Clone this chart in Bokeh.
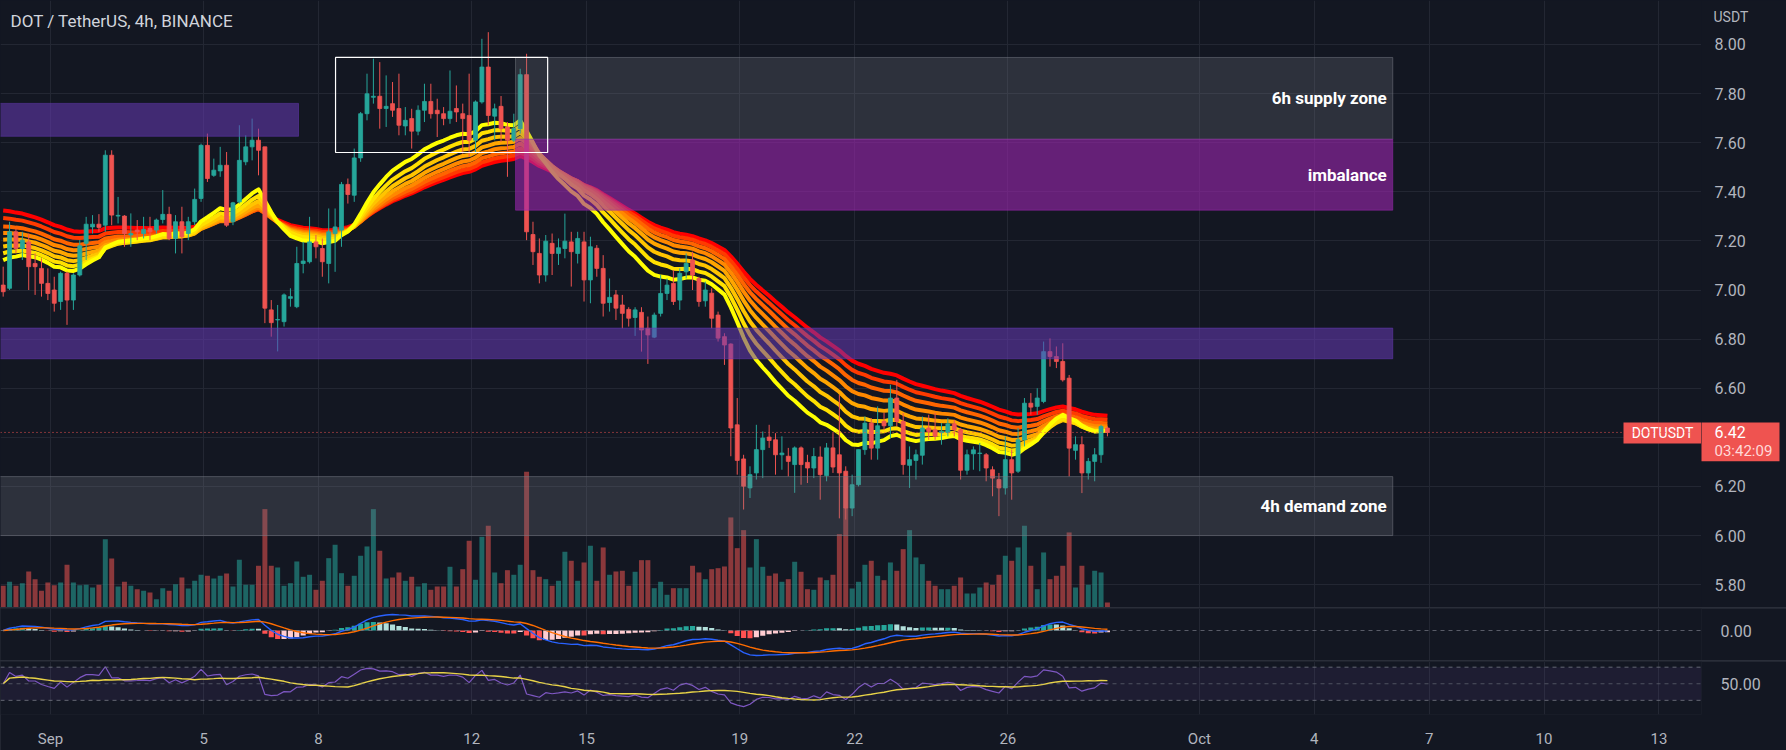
import numpy as np
from bokeh.plotting import figure
from bokeh.layouts import column, row
from bokeh.models import (ColumnDataSource, Range1d, FixedTicker, Span,
                          BoxAnnotation, NumeralTickFormatter, LinearAxis)
from bokeh.embed import file_html
from bokeh.resources import INLINE
from bokeh.core.properties import value

# ---------------- data ----------------
bar_index = list(range(-8, 166))   # 4h bars, 0 = 1 Sep 00:00

opens = [7.020, 7.007, 7.237, 7.169, 7.196, 7.108, 7.088, 7.027,
         7.000, 6.953, 7.068, 6.959, 7.061, 7.190, 7.257, 7.268, 7.264, 7.549,
         7.301, 7.301, 7.224, 7.244, 7.230, 7.251, 7.244, 7.287, 7.308, 7.210,
         7.278, 7.230, 7.278, 7.373, 7.589, 7.467, 7.485, 7.508, 7.278, 7.359,
         7.522, 7.583, 7.610, 7.583, 6.919, 6.878, 6.871, 6.966, 6.932, 7.108,
         7.115, 7.196, 7.169, 7.108, 7.230, 7.244, 7.430, 7.386, 7.538, 7.718,
         7.785, 7.789, 7.739, 7.759, 7.739, 7.668, 7.698, 7.647, 7.732, 7.768,
         7.732, 7.718, 7.698, 7.739, 7.718, 7.711, 7.610, 7.766, 7.908, 7.708,
         7.748, 7.664, 7.610, 7.657, 7.877, 7.226, 7.149, 7.061, 7.190, 7.149,
         7.169, 7.196, 7.149, 7.196, 7.041, 7.170, 7.088, 6.949, 6.980, 6.939,
         6.921, 6.888, 6.909, 6.844, 6.808, 6.905, 6.986, 7.027, 6.959, 7.074,
         7.122, 7.047, 6.956, 6.987, 6.898, 6.810, 6.780, 6.451, 6.312, 6.194,
         6.255, 6.350, 6.401, 6.390, 6.329, 6.323, 6.289, 6.357, 6.298, 6.275,
         6.320, 6.244, 6.357, 6.329, 6.262, 6.112, 6.207, 6.350, 6.458, 6.356,
         6.465, 6.447, 6.560, 6.465, 6.286, 6.306, 6.327, 6.438, 6.431, 6.419,
         6.420, 6.455, 6.431, 6.266, 6.333, 6.334, 6.329, 6.268, 6.228, 6.194,
         6.309, 6.262, 6.390, 6.539, 6.526, 6.546, 6.749, 6.729, 6.709, 6.641,
         6.347, 6.370, 6.255, 6.302, 6.329, 6.438]

highs = [7.095, 7.278, 7.250, 7.237, 7.230, 7.149, 7.129, 7.088,
         7.054, 7.075, 7.075, 7.068, 7.203, 7.298, 7.305, 7.309, 7.569, 7.569,
         7.379, 7.305, 7.312, 7.285, 7.298, 7.298, 7.291, 7.407, 7.339, 7.305,
         7.339, 7.298, 7.413, 7.596, 7.637, 7.535, 7.583, 7.562, 7.359, 7.671,
         7.630, 7.698, 7.657, 7.583, 6.959, 6.939, 6.986, 7.007, 7.176, 7.196,
         7.298, 7.224, 7.210, 7.332, 7.332, 7.440, 7.454, 7.576, 7.725, 7.881,
         7.942, 7.928, 7.874, 7.847, 7.881, 7.745, 7.738, 7.752, 7.840, 7.840,
         7.779, 7.745, 7.894, 7.833, 7.759, 7.881, 7.772, 8.023, 8.050, 7.759,
         7.790, 7.684, 7.718, 7.901, 7.962, 7.278, 7.210, 7.224, 7.230, 7.210,
         7.311, 7.237, 7.237, 7.237, 7.217, 7.183, 7.142, 7.047, 7.000, 6.980,
         6.930, 6.930, 6.930, 6.892, 6.908, 7.061, 7.047, 7.081, 7.088, 7.149,
         7.156, 7.054, 7.034, 7.007, 6.912, 6.824, 6.783, 6.560, 6.329, 6.282,
         6.451, 6.424, 6.451, 6.417, 6.404, 6.357, 6.363, 6.363, 6.329, 6.357,
         6.363, 6.377, 6.417, 6.573, 6.282, 6.248, 6.350, 6.485, 6.478, 6.526,
         6.500, 6.614, 6.634, 6.499, 6.363, 6.350, 6.485, 6.492, 6.499, 6.458,
         6.478, 6.471, 6.438, 6.350, 6.363, 6.377, 6.336, 6.282, 6.255, 6.404,
         6.350, 6.438, 6.560, 6.580, 6.600, 6.790, 6.803, 6.770, 6.783, 6.654,
         6.404, 6.404, 6.316, 6.356, 6.451, 6.445]

lows = [6.973, 7.000, 7.150, 7.122, 7.000, 6.980, 6.973, 6.959,
        6.912, 6.919, 6.858, 6.919, 7.055, 7.122, 7.230, 7.237, 7.237, 7.264,
        7.271, 7.176, 7.176, 7.203, 7.210, 7.203, 7.230, 7.271, 7.203, 7.149,
        7.149, 7.203, 7.264, 7.359, 7.440, 7.461, 7.461, 7.257, 7.264, 7.352,
        7.508, 7.528, 7.467, 6.865, 6.810, 6.750, 6.851, 6.932, 6.926, 7.068,
        7.108, 7.129, 7.054, 7.027, 7.074, 7.176, 7.352, 7.359, 7.522, 7.691,
        7.759, 7.657, 7.664, 7.705, 7.630, 7.630, 7.576, 7.630, 7.684, 7.698,
        7.623, 7.671, 7.677, 7.684, 7.555, 7.542, 7.562, 7.759, 7.671, 7.610,
        7.603, 7.461, 7.603, 7.637, 7.203, 7.102, 7.027, 7.034, 7.061, 7.102,
        7.129, 7.014, 7.108, 6.953, 6.946, 7.054, 6.892, 6.912, 6.878, 6.844,
        6.851, 6.813, 6.749, 6.699, 6.804, 6.892, 6.959, 6.939, 6.919, 7.047,
        7.000, 6.932, 6.932, 6.844, 6.790, 6.695, 6.323, 6.248, 6.106, 6.153,
        6.228, 6.234, 6.357, 6.248, 6.268, 6.241, 6.174, 6.207, 6.214, 6.234,
        6.146, 6.221, 6.255, 6.070, 6.065, 6.079, 6.200, 6.329, 6.309, 6.309,
        6.430, 6.397, 6.445, 6.248, 6.194, 6.228, 6.289, 6.390, 6.390, 6.370,
        6.404, 6.404, 6.228, 6.248, 6.268, 6.262, 6.221, 6.160, 6.079, 6.167,
        6.146, 6.255, 6.363, 6.492, 6.492, 6.539, 6.688, 6.682, 6.627, 6.241,
        6.309, 6.173, 6.228, 6.221, 6.296, 6.404]

closes = [6.993, 7.237, 7.169, 7.203, 7.095, 7.095, 7.027, 6.986,
          6.946, 7.068, 6.959, 7.061, 7.180, 7.268, 7.268, 7.255, 7.549, 7.305,
          7.304, 7.230, 7.230, 7.237, 7.247, 7.237, 7.285, 7.308, 7.210, 7.278,
          7.217, 7.278, 7.369, 7.589, 7.454, 7.488, 7.508, 7.264, 7.355, 7.528,
          7.583, 7.610, 7.569, 6.926, 6.867, 6.880, 6.980, 6.973, 7.108, 7.118,
          7.196, 7.176, 7.115, 7.237, 7.257, 7.430, 7.389, 7.538, 7.718, 7.799,
          7.789, 7.739, 7.748, 7.732, 7.671, 7.691, 7.647, 7.732, 7.768, 7.718,
          7.718, 7.698, 7.728, 7.725, 7.698, 7.610, 7.766, 7.908, 7.711, 7.738,
          7.657, 7.610, 7.657, 7.877, 7.237, 7.156, 7.061, 7.199, 7.149, 7.172,
          7.199, 7.156, 7.210, 7.041, 7.176, 7.088, 6.946, 6.970, 6.926, 6.905,
          6.885, 6.919, 6.837, 6.817, 6.898, 6.986, 7.020, 6.953, 7.068, 7.108,
          7.061, 6.953, 7.000, 6.885, 6.804, 6.776, 6.438, 6.306, 6.201, 6.248,
          6.350, 6.397, 6.387, 6.329, 6.336, 6.302, 6.357, 6.289, 6.275, 6.322,
          6.248, 6.357, 6.279, 6.255, 6.112, 6.207, 6.350, 6.458, 6.356, 6.447,
          6.447, 6.560, 6.465, 6.289, 6.309, 6.329, 6.438, 6.424, 6.404, 6.424,
          6.455, 6.431, 6.266, 6.329, 6.349, 6.336, 6.275, 6.234, 6.194, 6.309,
          6.255, 6.390, 6.539, 6.523, 6.560, 6.749, 6.729, 6.709, 6.634, 6.356,
          6.370, 6.255, 6.302, 6.329, 6.444, 6.420]

volume_k = [21.7, 25.7, 21.7, 24.3, 36.0, 28.3, 16.7, 25.0,
            22.3, 25.0, 42.7, 25.0, 22.3, 22.7, 20.0, 22.7, 68.3, 49.0,
            21.0, 25.7, 21.7, 18.3, 16.7, 15.0, 8.3, 19.3, 16.7, 23.3,
            30.0, 19.0, 26.7, 32.7, 31.7, 29.0, 31.7, 34.0, 21.0, 47.7,
            22.7, 22.7, 41.7, 98.3, 41.7, 40.0, 21.7, 24.3, 46.0, 30.7,
            32.7, 17.7, 26.7, 49.3, 62.7, 34.3, 21.7, 31.7, 51.7, 61.0,
            98.3, 56.7, 29.0, 30.0, 35.0, 26.7, 30.7, 21.0, 24.3, 17.7,
            21.0, 21.0, 40.7, 21.0, 38.3, 66.7, 27.7, 70.7, 81.7, 35.0,
            24.3, 37.3, 32.7, 42.7, 135.7, 37.3, 30.7, 28.3, 21.7, 26.7,
            55.7, 46.7, 26.7, 45.0, 61.7, 26.7, 60.0, 32.7, 36.0, 36.7,
            21.7, 35.7, 47.3, 47.3, 19.3, 25.7, 12.7, 19.3, 19.3, 19.3,
            41.7, 35.0, 28.3, 38.3, 39.3, 41.0, 90.0, 59.3, 77.3, 40.0,
            68.3, 40.7, 31.7, 34.0, 25.7, 28.3, 45.7, 35.7, 18.3, 17.7,
            30.0, 27.3, 32.7, 73.3, 131.0, 19.0, 25.7, 42.7, 46.7, 31.7,
            27.3, 45.0, 36.7, 58.3, 77.3, 50.0, 43.3, 26.7, 21.7, 18.3,
            18.3, 21.7, 30.0, 14.0, 14.0, 20.0, 25.0, 22.7, 32.7, 51.7,
            46.7, 60.0, 81.7, 41.7, 18.3, 55.0, 28.3, 31.7, 41.7, 75.0,
            20.0, 41.7, 22.7, 36.7, 35.0, 5.0]

day_ticks = [0, 24, 42, 66, 84, 108, 126, 150, 180, 198, 216, 234, 252]
day_labels = ["Sep", "5", "8", "12", "15", "19", "22", "26", "Oct", "4", "7", "10", "13"]
price_ticks = [5.8, 6.0, 6.2, 6.6, 6.8, 7.0, 7.2, 7.4, 7.6, 7.8, 8.0]

ribbon_lengths = [20, 25, 30, 35, 40, 45, 50, 55]
ribbon_start = [7.135, 7.163, 7.190, 7.217, 7.244, 7.271, 7.305, 7.336]

zone_labels = ["", "6h supply zone", "imbalance", "", "4h demand zone"]
zone_left = [-12.0, 72.87, 72.87, -12.0, -12.0]
zone_right = [38.87, 210.3, 210.3, 210.3, 210.3]
zone_bottom = [7.626, 7.614, 7.325, 6.720, 6.000]
zone_top = [7.760, 7.947, 7.614, 6.845, 6.240]

frame_box = dict(left=44.67, right=77.9, bottom=7.56, top=7.947)

symbol = "DOTUSDT"
last_price = 6.42
countdown = "03:42:09"
title_text = "DOT / TetherUS, 4h, BINANCE"
currency = "USDT"

# ---------------- styles ----------------
BG = "#131722"
GRID = "#232733"
TXT = "#b2b5be"
UP = "#26a69a"
DOWN = "#ef5350"
FONT = "Roboto"
BAR_SHIFT = 0.6
W = 1786
AXW = 85
FRAME_W = W - AXW
PX_PER_BAR = 6.383
ribbon_colors = ["#ffff00", "#ffe000", "#ffc400", "#ffa600", "#ff8800",
                 "#ff6400", "#ff3a00", "#ff0000"]
zone_fill = ["#673ab7", "#787b86", "#9c27b0", "#673ab7", "#787b86"]
zone_alpha = [0.55, 0.27, 0.6, 0.55, 0.27]
PRICE_PER_PX = 1 / 246.0

# ---------------- derived ----------------
o = np.array(opens); h = np.array(highs); l = np.array(lows); c = np.array(closes)
x = np.array(bar_index, dtype=float) + BAR_SHIFT
up = c >= o
col = np.where(up, UP, DOWN)


def ema(vals, n, start):
    a = 2.0 / (n + 1)
    out, e = [], start
    for v in vals:
        e = e + a * (v - e)
        out.append(e)
    return np.array(out)


ribbons = [ema(c, n, s) for n, s in zip(ribbon_lengths, ribbon_start)]

macd = ema(c, 12, c[0]) - ema(c, 26, c[0])
signal = ema(macd, 9, 0.0)
hist = macd - signal
hist_col = []
for i, hv in enumerate(hist):
    prev = hist[i - 1] if i > 0 else 0.0
    if hv >= 0:
        hist_col.append("#26a69a" if hv > prev else "#b2dfdb")
    else:
        hist_col.append("#ff5252" if hv < prev else "#ffcdd2")

ag = al = 0.025
rsi = [50.0]
for i in range(1, len(c)):
    d = c[i] - c[i - 1]
    ag = (ag * 13 + max(d, 0)) / 14
    al = (al * 13 + max(-d, 0)) / 14
    rsi.append(100 - 100 / (1 + ag / al) if al > 0 else 100)
rsi = np.array(rsi)
rsi_ma = np.array([rsi[max(0, i - 13):i + 1].mean() for i in range(len(rsi))])

src = ColumnDataSource(dict(x=x, o=o, h=h, l=l, c=c, top=np.maximum(o, c),
                            bot=np.minimum(o, c), col=col, vol=volume_k,
                            hist=hist, hcol=hist_col, macd=macd, sig=signal,
                            rsi=rsi, rsima=rsi_ma))

x0 = -7.82
x_range = Range1d(x0, x0 + FRAME_W / PX_PER_BAR)


def style_yaxis(f):
    f.yaxis.axis_line_color = None
    f.yaxis.major_tick_line_color = None
    f.yaxis.minor_tick_line_color = None
    f.yaxis.major_label_text_color = TXT
    f.yaxis.major_label_text_font = FONT
    f.yaxis.major_label_text_font_size = "16px"
    f.yaxis.major_label_standoff = 13
    f.yaxis.formatter = NumeralTickFormatter(format="0.00")


def base_fig(height, y_range, min_bottom=0, width=W, axis="right"):
    f = figure(width=width, height=height, x_range=x_range, y_range=y_range,
               output_backend="svg", toolbar_location=None,
               x_axis_location=None, y_axis_location=axis,
               min_border_left=0, min_border_right=(AXW if axis else 0),
               min_border_top=0, min_border_bottom=min_bottom,
               background_fill_color=BG, border_fill_color=BG,
               outline_line_color=None)
    f.xgrid.ticker = FixedTicker(ticks=day_ticks)
    f.xgrid.grid_line_color = GRID
    if axis:
        style_yaxis(f)
    return f


# ---------------- main pane (chart part) ----------------
y_main = Range1d(5.707, 8.179)
main = base_fig(607, y_main, width=FRAME_W, axis=None)
main.ygrid.ticker = FixedTicker(ticks=price_ticks + [6.4])
main.ygrid.grid_line_color = GRID

main.extra_y_ranges = {"vol": Range1d(0, 135.7 * 4.47)}
main.vbar(x="x", top="vol", bottom=0, width=0.78, fill_color="col",
          line_color=None, fill_alpha=0.55, y_range_name="vol", source=src)

for r, rc in reversed(list(zip(ribbons, ribbon_colors))):
    main.line(x, r, line_color=rc, line_width=4, line_join="round")

main.segment(x0="x", y0="l", x1="x", y1="h", line_color="col", line_width=1, source=src)
main.vbar(x="x", top="top", bottom="bot", width=0.62, fill_color="col",
          line_color="col", line_width=0.8, source=src)

main.quad(left=zone_left, right=zone_right, bottom=zone_bottom, top=zone_top,
          fill_color=zone_fill, fill_alpha=zone_alpha, line_color=zone_fill,
          line_alpha=0.5, line_width=1)
main.quad(fill_color=None, line_color="white", line_width=1.2,
          **{k: [v] for k, v in frame_box.items()})

lbl_idx = [i for i, t in enumerate(zone_labels) if t]
main.text(x=[zone_right[i] for i in lbl_idx],
          y=[(zone_bottom[i] + zone_top[i]) / 2 for i in lbl_idx],
          text=[zone_labels[i] for i in lbl_idx], x_offset=-6,
          text_align="right", text_baseline="middle", text_color="white",
          text_font=value(FONT), text_font_size="17px", text_font_style="bold")

main.add_layout(Span(location=last_price, dimension="width", line_color=DOWN,
                     line_dash="1 3", line_width=1))

xr_end = x_range.end
lab_left = xr_end - 78 / PX_PER_BAR
main.quad(left=[lab_left], right=[xr_end + 1], bottom=[last_price - 11 * PRICE_PER_PX],
          top=[last_price + 10 * PRICE_PER_PX], fill_color=DOWN, line_color=None)
main.text(x=[(lab_left + xr_end) / 2], y=[last_price - 0.5 * PRICE_PER_PX],
          text=[symbol], text_align="center",
          text_baseline="middle", text_color="white", text_font=value(FONT),
          text_font_size="14px")
main.text(x=[-6.25], y=[y_main.end - 21 * PRICE_PER_PX], text=[title_text],
          text_align="left", text_baseline="middle", text_color="#d1d4dc",
          text_font=value(FONT), text_font_size="17px")

# ---------------- main pane (price scale part) ----------------
scale = figure(width=AXW, height=607, x_range=Range1d(0, AXW), y_range=y_main,
               output_backend="svg", toolbar_location=None,
               x_axis_location=None, y_axis_location=None, min_border=0,
               background_fill_color=BG, border_fill_color=BG,
               outline_line_color=None)
scale.grid.visible = False
scale.text(x=[13] * len(price_ticks), y=price_ticks,
           text=[f"{v:.2f}" for v in price_ticks], text_align="left",
           text_baseline="middle", text_color=TXT, text_font=value(FONT),
           text_font_size="16px")
scale.text(x=[12], y=[y_main.end - 17 * PRICE_PER_PX], text=[currency],
           text_align="left", text_baseline="middle", text_color=TXT,
           text_font=value(FONT), text_font_size="14px")
scale.quad(left=[-1], right=[78], bottom=[last_price - 29 * PRICE_PER_PX],
           top=[last_price + 10 * PRICE_PER_PX], fill_color=DOWN, line_color=None)
scale.text(x=[13], y=[last_price], text=[f"{last_price:.2f}"], text_align="left",
           text_baseline="middle", text_color="white", text_font=value(FONT),
           text_font_size="16px")
scale.text(x=[13], y=[last_price - 19 * PRICE_PER_PX], text=[countdown],
           text_align="left", text_baseline="middle", text_color="#ffd9d8",
           text_font=value(FONT), text_font_size="15px")

# ---------------- MACD pane ----------------
s = max(macd.max() / 17.0, -macd.min() / 25.0)
macd_fig = base_fig(52, Range1d(-30 * s, 22 * s))
macd_fig.ygrid.grid_line_color = None
macd_fig.yaxis.ticker = FixedTicker(ticks=[0])
macd_fig.add_layout(Span(location=0, dimension="width", line_color="#787b86",
                         line_alpha=0.7, line_dash="4 4", line_width=1))
macd_fig.vbar(x="x", top="hist", bottom=0, width=0.8, fill_color="hcol",
              line_color=None, source=src)
macd_fig.line("x", "macd", line_color="#2962ff", line_width=1.4, source=src)
macd_fig.line("x", "sig", line_color="#ff6d00", line_width=1.4, source=src)

# ---------------- RSI pane ----------------
rsi_fig = base_fig(89, Range1d(12.9, 76.86), min_bottom=33)
rsi_fig.ygrid.grid_line_color = None
rsi_fig.yaxis.ticker = FixedTicker(ticks=[50])
rsi_fig.add_layout(BoxAnnotation(bottom=30, top=70, fill_color="#7e57c2",
                                 fill_alpha=0.1, line_color=None))
for lv, la in ((70, 0.8), (50, 0.55), (30, 0.8)):
    rsi_fig.add_layout(Span(location=lv, dimension="width", line_color="#787b86",
                            line_alpha=la, line_dash="4 4", line_width=1))
rsi_fig.line("x", "rsi", line_color="#7e57c2", line_width=1.2, source=src)
rsi_fig.line("x", "rsima", line_color="#f5e13a", line_width=1.4, source=src)

xax = LinearAxis(ticker=FixedTicker(ticks=day_ticks),
                 major_label_overrides={t: lab for t, lab in zip(day_ticks, day_labels)})
xax.axis_line_color = None
xax.major_tick_line_color = None
xax.minor_tick_line_color = None
xax.major_label_text_color = TXT
xax.major_label_text_font = FONT
xax.major_label_text_font_size = "15px"
xax.major_label_standoff = 9
rsi_fig.add_layout(xax, "below")

top_row = row(main, scale, spacing=0, styles={"background-color": BG})
layout = column(top_row, macd_fig, rsi_fig, spacing=1,
                styles={"background-color": "#2a2e39"})

open("out.html", "w").write(file_html(layout, INLINE))
